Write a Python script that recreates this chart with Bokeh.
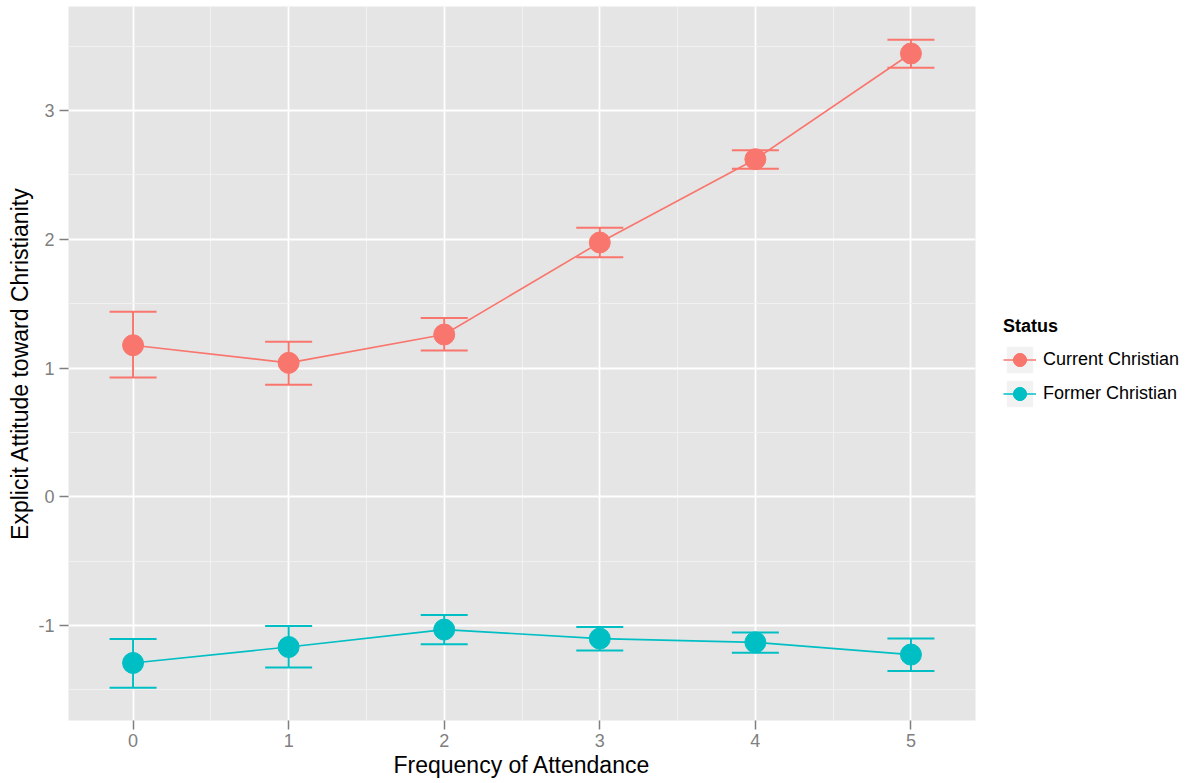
from bokeh.plotting import figure
from bokeh.layouts import row
from bokeh.models import (ColumnDataSource, Whisker, TeeHead, Legend, LegendItem,
                          FixedTicker, Range1d)
from bokeh.embed import file_html
from bokeh.resources import INLINE

# ---- data ----
attendance = [0, 1, 2, 3, 4, 5]
current_mean = [1.177, 1.040, 1.260, 1.975, 2.622, 3.443]
current_upper = [1.436, 1.203, 1.389, 2.089, 2.692, 3.549]
current_lower = [0.926, 0.869, 1.136, 1.861, 2.547, 3.332]
former_mean = [-1.291, -1.167, -1.032, -1.102, -1.131, -1.226]
former_upper = [-1.105, -1.004, -0.918, -1.012, -1.055, -1.102]
former_lower = [-1.483, -1.327, -1.146, -1.195, -1.211, -1.353]
series_names = ["Current Christian", "Former Christian"]
series_colors = ["#F8766D", "#00BFC4"]
legend_title = "Status"
x_ticks = [0, 1, 2, 3, 4, 5]
x_minor = [0.5, 1.5, 2.5, 3.5, 4.5]
y_ticks = [-1, 0, 1, 2, 3]
y_minor = [-1.5, -0.5, 0.5, 1.5, 2.5, 3.5]

FONT = "Liberation Sans"
nan = float("nan")

p = figure(width=980, height=780, output_backend="svg", toolbar_location=None,
           x_range=Range1d(-0.415, 5.415), y_range=Range1d(-1.738, 3.808),
           min_border_left=68, min_border_right=5, min_border_top=6,
           min_border_bottom=55)
p.background_fill_color = "#e5e5e5"
p.border_fill_color = "white"
p.outline_line_color = None

for ax, ticks, minor in ((p.xaxis, x_ticks, x_minor), (p.yaxis, y_ticks, y_minor)):
    ax.ticker = FixedTicker(ticks=ticks, minor_ticks=minor)
    ax.axis_line_color = None
    ax.major_tick_line_color = "#7f7f7f"
    ax.major_tick_line_width = 1.5
    ax.major_tick_out = 9
    ax.major_tick_in = 0
    ax.minor_tick_line_color = None
    ax.major_label_text_font = FONT
    ax.major_label_text_font_size = "18px"
    ax.major_label_text_color = "#7f7f7f"
    ax.axis_label_text_font = FONT
    ax.axis_label_text_font_size = "23px"
    ax.axis_label_text_font_style = "normal"
    ax.axis_label_text_color = "black"

p.xaxis.major_label_standoff = 4
p.yaxis.major_label_standoff = 5
p.yaxis.major_label_overrides = {-1: "-1"}
p.xaxis.axis_label = "Frequency of Attendance"
p.yaxis.axis_label = "Explicit Attitude toward Christianity"
p.xaxis.axis_label_standoff = 2
p.yaxis.axis_label_standoff = 2

for g in (p.xgrid, p.ygrid):
    g.grid_line_color = "white"
    g.grid_line_width = 1.8
    g.minor_grid_line_color = "#f2f2f2"
    g.minor_grid_line_width = 0.9

# legend panel (separate figure to the right of the plot)
lf = figure(width=210, height=780, output_backend="svg", toolbar_location=None,
            x_range=Range1d(0, 1), y_range=Range1d(0, 1),
            x_axis_location=None, y_axis_location=None,
            min_border_left=0, min_border_right=0, min_border_top=0, min_border_bottom=0)
lf.outline_line_color = None
lf.background_fill_color = "white"
lf.border_fill_color = "white"
lf.xgrid.visible = False
lf.ygrid.visible = False

series = ((series_names[0], series_colors[0], current_mean, current_upper, current_lower),
          (series_names[1], series_colors[1], former_mean, former_upper, former_lower))

items = []
for name, color, mean, up, lo in series:
    src = ColumnDataSource(dict(x=attendance, y=mean, upper=up, lower=lo))
    w = Whisker(source=src, base="x", upper="upper", lower="lower", dimension="height",
                line_color=color, line_width=2, level="underlay",
                upper_head=TeeHead(size=47, line_color=color, line_width=2),
                lower_head=TeeHead(size=47, line_color=color, line_width=2))
    p.add_layout(w)
    p.line("x", "y", source=src, line_color=color, line_width=1.6)
    p.scatter("x", "y", source=src, size=21, fill_color=color, line_color=color)
    # legend keys (legend-only renderers, nothing drawn in the legend panel itself)
    bg = lf.quad(left=[nan], right=[nan], top=[nan], bottom=[nan],
                 fill_color="#f2f2f2", line_color=None)
    ln = lf.line([nan], [nan], line_color=color, line_width=1.6)
    sc = lf.scatter([nan], [nan], size=21, fill_color=color, line_color=color)
    items.append(LegendItem(label=name, renderers=[bg, ln, sc]))

legend = Legend(items=items, location=(23, 310), title=legend_title,
                title_text_font=FONT, title_text_font_size="18px",
                title_text_font_style="bold", title_text_color="black", title_standoff=6,
                label_text_font=FONT, label_text_font_size="18px", label_text_color="black",
                glyph_width=33, glyph_height=33, spacing=1, label_standoff=7,
                margin=0, padding=0, background_fill_alpha=0, border_line_color=None)
lf.add_layout(legend)

layout = row(p, lf)
open("out.html", "w").write(file_html(layout, INLINE))
